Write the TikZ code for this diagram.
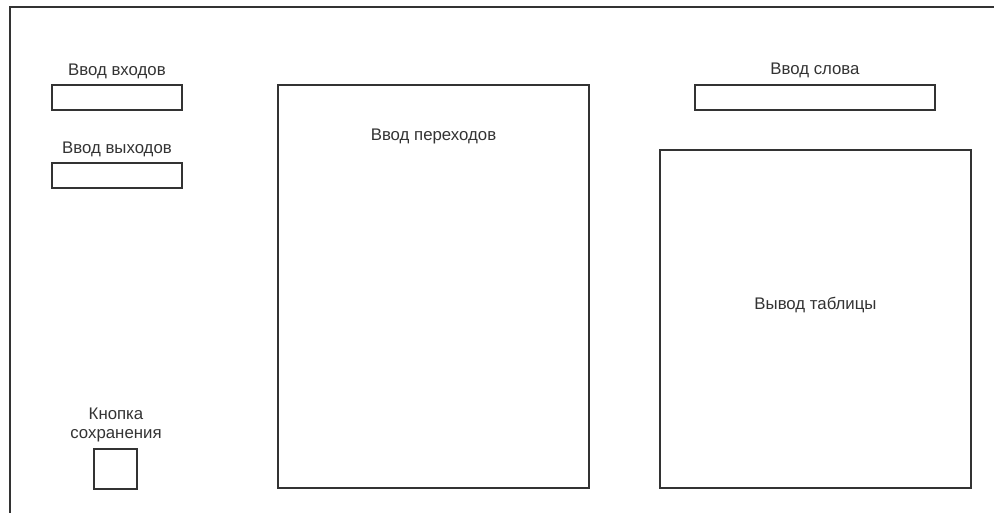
\documentclass[tikz,border=0pt]{standalone}
\usepackage{fontspec}
\setmainfont{Liberation Sans}
\usepackage{tikz}
\usetikzlibrary{positioning}
\definecolor{ln}{HTML}{333333}

\begin{document}
\begin{tikzpicture}[x=1pt,y=-1pt,
  font=\fontsize{16.8}{20}\selectfont, line width=1.2pt,
  f/.style={draw=ln,inner sep=0,minimum width=#1},
  t/.style={text=ln,anchor=base,inner sep=0}]
\useasboundingbox (0,0) rectangle (994,513);
\draw[ln] (10,513) -- (10,7) -- (994,7);
% left column
\node[f=130pt,minimum height=25pt] (inp) at (117,97.5) {};
\node[f=130pt,minimum height=25pt] (outp) at (117,175.5) {};
\node[f=43pt,minimum height=40pt] (save) at (115.5,469) {};
\node[t] (inpt) at (117,76) {Ввод входов};
\node[t] (outpt) at (117,154) {Ввод выходов};
\node[t] (savet) at (116,419) {Кнопка};
\node[t] (savet2) at (116,438) {сохранения};
% middle
\node[f=311pt,minimum height=403pt] (trans) at (433.5,286.5) {};
\node[t] (transt) at (433.5,141) {Ввод переходов};
% right column
\node[f=240pt,minimum height=25pt] (word) at (815,97.5) {};
\node[t] (wordt) at (815,75) {Ввод слова};
\node[f=311pt,minimum height=338pt] (tab) at (815.5,319) {};
\node[t] (tabt) at (815.5,309) {Вывод таблицы};
\end{tikzpicture}
\end{document}
